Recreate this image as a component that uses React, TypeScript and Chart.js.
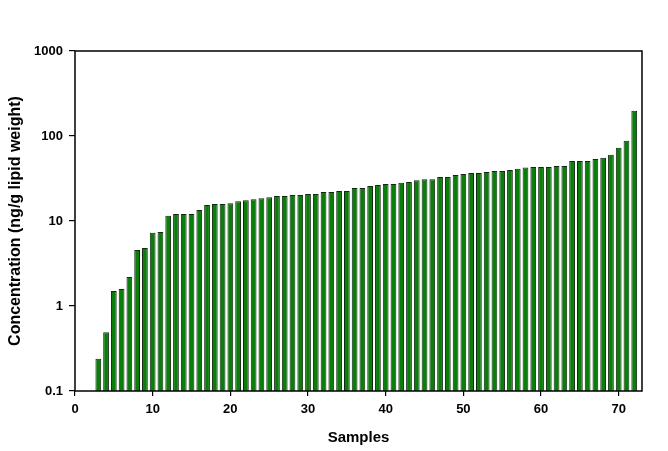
import React, { useEffect, useRef } from 'react';
import { Chart, registerables } from 'chart.js';

Chart.register(...registerables);

const sampleNumbers = [
  3, 4, 5, 6, 7, 8, 9, 10, 11, 12,
  13, 14, 15, 16, 17, 18, 19, 20, 21, 22,
  23, 24, 25, 26, 27, 28, 29, 30, 31, 32,
  33, 34, 35, 36, 37, 38, 39, 40, 41, 42,
  43, 44, 45, 46, 47, 48, 49, 50, 51, 52,
  53, 54, 55, 56, 57, 58, 59, 60, 61, 62,
  63, 64, 65, 66, 67, 68, 69, 70, 71, 72,
];

const concentrations = [
  0.24, 0.49, 1.5, 1.58, 2.19, 4.55, 4.81, 7.28, 7.42, 11.5,
  12.1, 12.1, 12.1, 13.5, 15.4, 15.9, 15.9, 16.2, 17.1, 17.5,
  18.0, 18.5, 19.0, 19.7, 19.7, 20.2, 20.2, 20.8, 20.8, 22.0,
  22.0, 22.6, 22.6, 24.5, 24.5, 25.8, 26.6, 27.3, 27.3, 28.1,
  28.8, 30.2, 31.0, 31.0, 33.0, 33.0, 34.8, 35.8, 36.8, 36.8,
  37.8, 38.8, 38.8, 39.9, 41.3, 42.5, 43.3, 43.3, 43.3, 44.5,
  44.5, 50.9, 50.9, 50.9, 53.8, 55.3, 60.0, 72.5, 87.7, 198,
];

const yTickValues = [0.1, 1, 10, 100, 1000];
const xTickValues = [0, 10, 20, 30, 40, 50, 60, 70];
const xMin = 0;
const xMax = 73;

const xTitle = 'Samples';
const yTitle = 'Concentration (ng/g lipid weight)';

const FONT = 'Arial, "Liberation Sans", sans-serif';

const boxPlugin = {
  id: 'plotBox',
  afterDatasetsDraw(chart: any) {
    const { ctx, chartArea } = chart;
    ctx.save();
    ctx.strokeStyle = '#000';
    ctx.lineWidth = 1.5;
    ctx.strokeRect(chartArea.left, chartArea.top, chartArea.right - chartArea.left, chartArea.bottom - chartArea.top);
    ctx.restore();
  },
};

export default function App() {
  const canvasRef = useRef<HTMLCanvasElement | null>(null);

  useEffect(() => {
    if (!canvasRef.current) return;
    const data = sampleNumbers.map((x, i) => ({ x, y: concentrations[i] }));
    const chart = new Chart(canvasRef.current, {
      type: 'bar',
      data: {
        datasets: [
          {
            data: data as any,
            backgroundColor: '#0a7d0a',
            borderColor: '#102a10',
            borderWidth: 1,
            barPercentage: 0.74,
            categoryPercentage: 1,
          },
        ],
      },
      plugins: [boxPlugin],
      options: {
        animation: false,
        responsive: true,
        maintainAspectRatio: false,
        layout: { padding: { top: 51, right: 26, left: 0, bottom: 0 } },
        plugins: {
          legend: { display: false },
          tooltip: { enabled: false },
        },
        scales: {
          x: {
            type: 'linear',
            min: xMin,
            max: xMax,
            offset: false,
            afterBuildTicks: (scale: any) => {
              scale.ticks = xTickValues.map((v) => ({ value: v }));
            },
            afterFit: (scale: any) => {
              scale.height = 60;
            },
            grid: {
              offset: false,
              drawOnChartArea: false,
              drawTicks: true,
              tickLength: 5,
              color: '#000',
              lineWidth: 1.2,
            },
            border: { display: false },
            ticks: {
              color: '#000',
              padding: 6,
              maxRotation: 0,
              autoSkip: false,
              font: { family: FONT, size: 13, weight: 'bold' },
              callback: (v: any) => String(v),
            },
            title: {
              display: true,
              text: xTitle,
              color: '#000',
              font: { family: FONT, size: 15, weight: 'bold' },
              padding: { top: 0, bottom: 4 },
            },
          },
          y: {
            type: 'logarithmic',
            min: 0.1,
            max: 1000,
            afterBuildTicks: (scale: any) => {
              scale.ticks = yTickValues.map((v) => ({ value: v }));
            },
            afterFit: (scale: any) => {
              scale.width = 75;
            },
            grid: {
              offset: false,
              drawOnChartArea: false,
              drawTicks: true,
              tickLength: 6,
              color: '#000',
              lineWidth: 1.2,
            },
            border: { display: false },
            ticks: {
              color: '#000',
              padding: 6,
              autoSkip: false,
              font: { family: FONT, size: 13, weight: 'bold' },
              callback: (v: any) => String(v),
            },
            title: {
              display: true,
              text: yTitle,
              color: '#000',
              font: { family: FONT, size: 16, weight: 'bold' },
              padding: { top: 6, bottom: 0 },
            },
          },
        },
      } as any,
    });
    return () => chart.destroy();
  }, []);

  return (
    <div style={{ position: 'fixed', left: 0, top: 0, width: 668, height: 451, background: '#fff' }}>
      <canvas ref={canvasRef} />
    </div>
  );
}
